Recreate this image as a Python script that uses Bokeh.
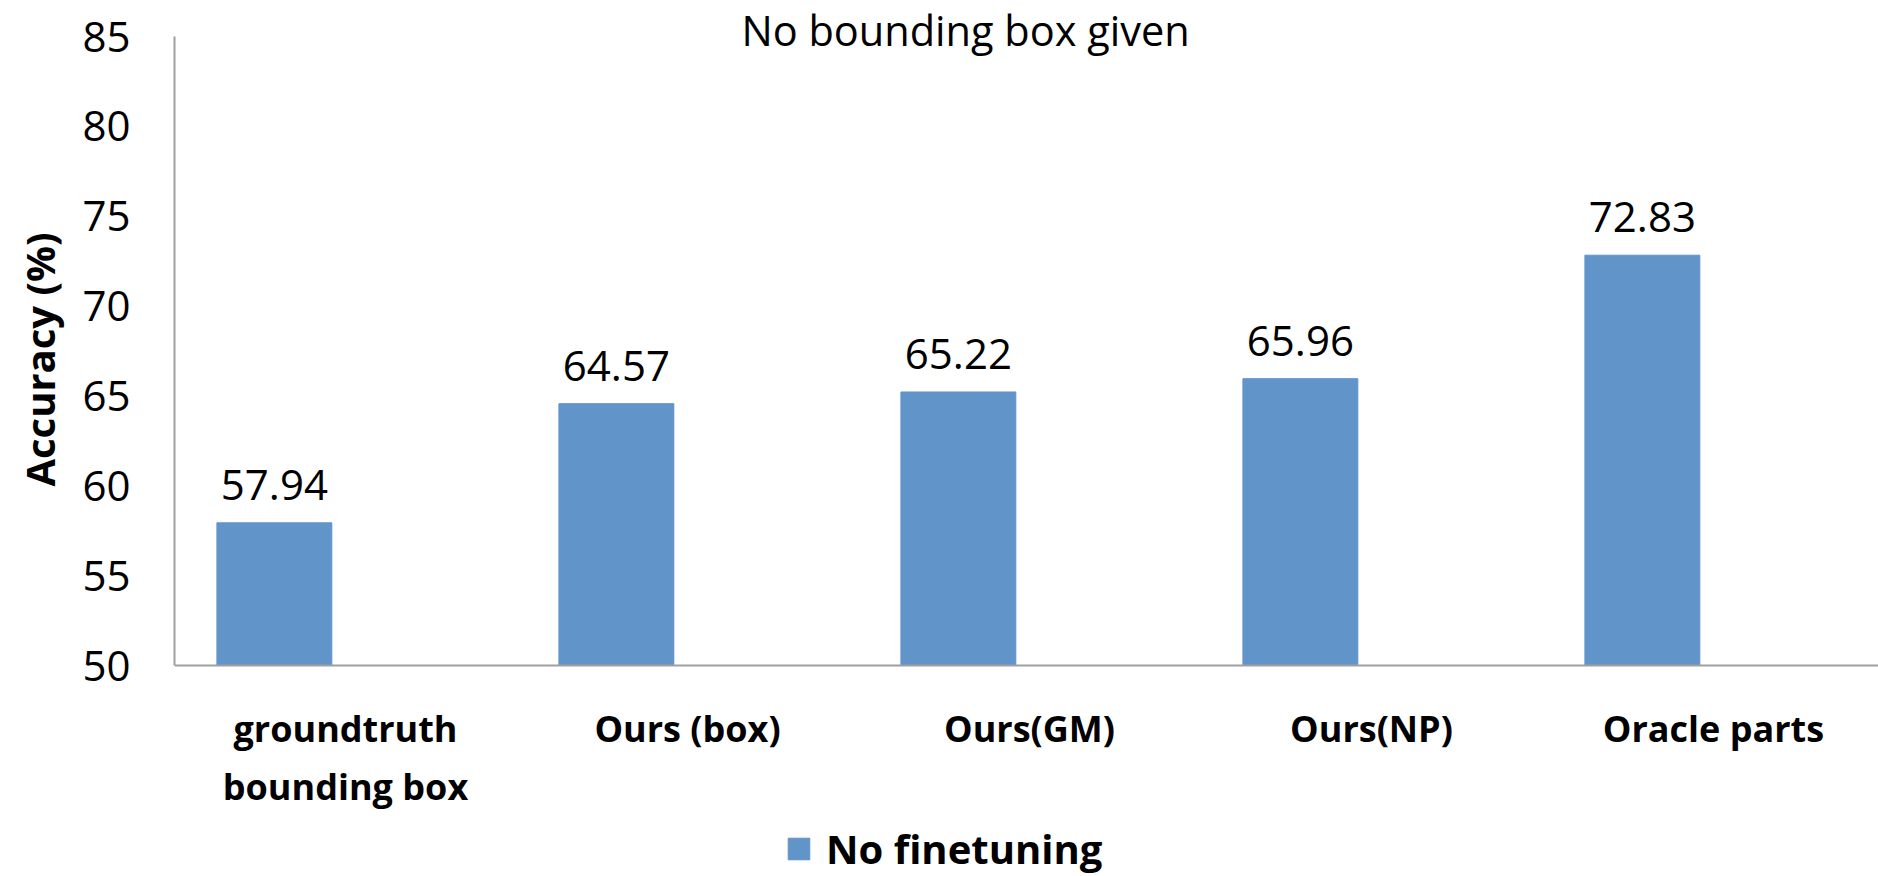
import math
from bokeh.plotting import figure
from bokeh.layouts import row
from bokeh.models import Range1d, FixedTicker, Label, Legend, LegendItem, ColumnDataSource
from bokeh.embed import file_html
from bokeh.resources import INLINE
from bokeh.core.properties import value

# ---- data ----
categories = ["groundtruth\nbounding box", "Ours (box)", "Ours(GM)", "Ours(NP)", "Oracle parts"]
accuracy = [57.94, 64.57, 65.22, 65.96, 72.83]
value_labels = ["57.94", "64.57", "65.22", "65.96", "72.83"]
y_ticks = [50, 55, 60, 65, 70, 75, 80, 85]
series_name = "No finetuning"
title_text = "No bounding box given"
y_label = "Accuracy (%)"

FONT = "Open Sans"
BAR = "#6194C9"
AXIS = "#A0A0A0"

W, H = 1878, 876
LABEL_W = 70
LEFT = 174
PX_PER_UNIT = 629 / 35.0   # 50 -> 665px, 85 -> 36px
SLOT = 342.0

xs = list(range(len(categories)))
bar_x = [x - 0.208 for x in xs]
src = ColumnDataSource(dict(x=bar_x, top=accuracy, lab=value_labels))

# ---- narrow figure holding the y-axis title ----
lf = figure(width=LABEL_W, height=H, output_backend="svg", toolbar_location=None,
            x_range=Range1d(0, LABEL_W), y_range=Range1d(0, H),
            min_border=0, x_axis_type=None, y_axis_type=None)
lf.xgrid.visible = False
lf.ygrid.visible = False
lf.outline_line_color = None
lf.add_layout(Label(x=39, y=H - 359, text=y_label, angle=math.pi / 2,
                    text_align="center", text_baseline="middle", text_font=FONT,
                    text_font_size="40px", text_font_style="bold", text_color="black"))

# ---- main chart ----
y_lo, y_hi = y_ticks[0], y_ticks[-1]
p = figure(width=W - LABEL_W, height=H, output_backend="svg", toolbar_location=None,
           x_range=Range1d(-0.5, -0.5 + (W - LEFT) / SLOT),
           y_range=Range1d(y_lo - (H - 665) / PX_PER_UNIT, y_hi + 36 / PX_PER_UNIT),
           min_border_left=LEFT - LABEL_W, min_border_right=0, min_border_top=0,
           min_border_bottom=0)
p.xgrid.visible = False
p.ygrid.visible = False
p.outline_line_color = None
p.background_fill_color = "white"
p.border_fill_color = "white"

r = p.vbar(x="x", top="top", bottom=y_lo, width=0.336, source=src,
           fill_color=BAR, line_color=BAR)

p.text(x="x", y="top", text="lab", source=src, text_align="center",
       text_baseline="middle", y_offset=-38, text_font=value(FONT),
       text_font_size="42px", text_color="black")

# y axis
ya = p.yaxis[0]
ya.ticker = FixedTicker(ticks=y_ticks)
ya.bounds = (y_lo, y_hi)
ya.major_label_text_font = FONT
ya.major_label_text_font_size = "42px"
ya.major_label_text_color = "black"
ya.major_tick_out = 0
ya.major_tick_in = 0
ya.minor_tick_out = 0
ya.minor_tick_in = 0
ya.axis_line_color = AXIS
ya.axis_line_width = 2
ya.major_label_standoff = 44

# x axis (drawn at y = 50 inside the frame)
xa = p.xaxis[0]
xa.fixed_location = y_lo
xa.ticker = FixedTicker(ticks=xs)
xa.major_label_overrides = {i: c for i, c in zip(xs, categories)}
xa.major_label_text_font = FONT
xa.major_label_text_font_size = "36px"
xa.major_label_text_font_style = "bold"
xa.major_label_text_color = "black"
xa.major_tick_out = 0
xa.major_tick_in = 0
xa.minor_tick_out = 0
xa.minor_tick_in = 0
xa.axis_line_color = AXIS
xa.axis_line_width = 2
xa.major_label_standoff = 38

# title
p.add_layout(Label(x=1.813, y=y_hi + 7 / PX_PER_UNIT, text=title_text, text_align="center",
                   text_baseline="middle", text_font=FONT, text_font_size="41.5px",
                   text_color="black"))

legend = Legend(items=[LegendItem(label=series_name, renderers=[r])],
                location=(611, 0), glyph_width=27, glyph_height=27,
                label_text_font=FONT, label_text_font_size="40px",
                label_text_font_style="bold", label_text_color="black",
                label_standoff=14, padding=0, margin=0, border_line_color=None,
                background_fill_alpha=0)
p.add_layout(legend, "center")

layout = row(lf, p, spacing=0)
open("out.html", "w").write(file_html(layout, INLINE))
